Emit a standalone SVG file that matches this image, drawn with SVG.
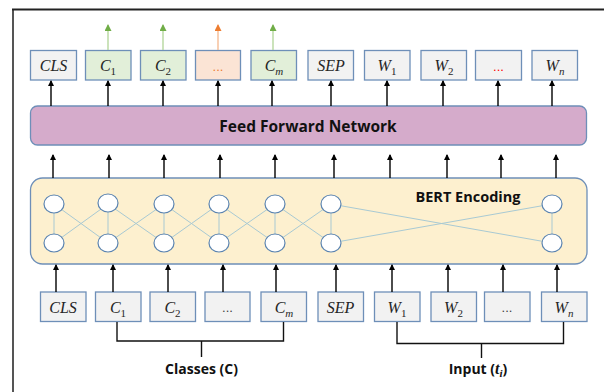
<svg xmlns="http://www.w3.org/2000/svg" width="604" height="392" viewBox="0 0 604 392">
<style>
.box{fill:#f2f2f2;stroke:#6e8fb8;stroke-width:1.3}
.cbox{fill:#e2efd9;stroke:#6e8fb8;stroke-width:1.3}
.obox{fill:#fbe4d5;stroke:#6e8fb8;stroke-width:1.3}
.m{font-family:"Liberation Serif",serif;font-style:italic;font-size:16px;fill:#262626;text-anchor:middle}
.sub{font-size:11px;font-style:normal}
.subi{font-size:11px}
.b{font-family:"Open Sans","Liberation Sans",sans-serif;font-weight:bold;fill:#111;text-anchor:middle}
.arr{stroke:#000;stroke-width:1.4;fill:none;marker-end:url(#ah)}
.ga{stroke:#a9d18e;stroke-width:1.2;fill:none;marker-end:url(#gh)}
.oa{stroke:#f4b183;stroke-width:1.2;fill:none;marker-end:url(#oh)}
.nn{fill:#fff;stroke:#5b84b1;stroke-width:1.2}
.ln{stroke:#a8c9d3;stroke-width:1;fill:none}
.br{stroke:#111;stroke-width:1.4;fill:none}
.dots{font-family:"Liberation Sans",sans-serif;font-size:13px;text-anchor:middle}
</style>
<defs>
<marker id="ah" markerWidth="6" markerHeight="6" refX="5" refY="3" orient="auto" markerUnits="userSpaceOnUse"><path d="M0,0 L6,3 L0,6 z" fill="#000"/></marker>
<marker id="gh" markerWidth="7" markerHeight="7" refX="6" refY="3.5" orient="auto" markerUnits="userSpaceOnUse"><path d="M0,0 L7,3.5 L0,7 z" fill="#70ad47"/></marker>
<marker id="oh" markerWidth="7" markerHeight="7" refX="6" refY="3.5" orient="auto" markerUnits="userSpaceOnUse"><path d="M0,0 L7,3.5 L0,7 z" fill="#ed7d31"/></marker>
</defs>
<rect width="604" height="392" fill="#fff"/>
<path d="M13,392 V9.5" stroke="#555" stroke-width="2" fill="none"/>
<path d="M12,9.5 H604" stroke="#222" stroke-width="2" fill="none"/>

<g id="ffn">
<rect x="30.5" y="106" width="556" height="39" rx="7" fill="#d5abcb" stroke="#6e8fb8" stroke-width="1.3"/>
<text class="b" x="308" y="131.5" font-size="15.5">Feed Forward Network</text>
</g>

<g id="bert">
<rect x="30.5" y="178" width="556.5" height="86" rx="12" fill="#fdf0cf" stroke="#6e8fb8" stroke-width="1.3"/>
<text class="b" x="468" y="201.5" font-size="14.5">BERT Encoding</text>
<g class="ln">
<path d="M54,204 V243 M108,204 V243 M164,204 V243 M219,204 V243 M275,204 V243 M331,204 V243 M552,204 V243"/>
<path d="M54,204 L108,243 M54,243 L108,204 M108,204 L164,243 M108,243 L164,204 M164,204 L219,243 M164,243 L219,204 M219,204 L275,243 M219,243 L275,204 M275,204 L331,243 M275,243 L331,204 M331,204 L552,243 M331,243 L552,204"/>
</g>
<g class="nn">
<ellipse cx="54" cy="204" rx="10" ry="9"/><ellipse cx="108" cy="203" rx="10" ry="9"/><ellipse cx="164" cy="204" rx="10" ry="9"/><ellipse cx="219" cy="204" rx="10" ry="9"/><ellipse cx="275" cy="204" rx="10" ry="9"/><ellipse cx="331" cy="204" rx="10" ry="9"/><ellipse cx="552" cy="204" rx="10" ry="9"/>
<ellipse cx="54" cy="243" rx="10" ry="9"/><ellipse cx="108" cy="243" rx="10" ry="9"/><ellipse cx="164" cy="243" rx="10" ry="9"/><ellipse cx="219" cy="243" rx="10" ry="9"/><ellipse cx="275" cy="243" rx="10" ry="9"/><ellipse cx="331" cy="243" rx="10" ry="9"/><ellipse cx="552" cy="243" rx="10" ry="9"/>
</g>
</g>

<g id="out-cls"><rect class="box" x="30.5" y="50.5" width="46" height="29.5"/><text class="m" x="53.5" y="71">CLS</text></g>
<g id="out-c1"><rect class="cbox" x="85.5" y="50.5" width="45.5" height="29.5"/><text class="m" x="108" y="71">C<tspan class="sub" dy="4">1</tspan></text></g>
<g id="out-c2"><rect class="cbox" x="140.5" y="50.5" width="45.5" height="29.5"/><text class="m" x="163" y="71">C<tspan class="sub" dy="4">2</tspan></text></g>
<g id="out-dots"><rect class="obox" x="195.5" y="50.5" width="45" height="29.5"/><text class="dots" x="218" y="71" fill="#ed7d31">...</text></g>
<g id="out-cm"><rect class="cbox" x="251" y="50.5" width="45.5" height="29.5"/><text class="m" x="274" y="71">C<tspan class="subi" dy="4">m</tspan></text></g>
<g id="out-sep"><rect class="box" x="308" y="50.5" width="45.5" height="29.5"/><text class="m" x="331" y="71">SEP</text></g>
<g id="out-w1"><rect class="box" x="364.5" y="50.5" width="45.5" height="29.5"/><text class="m" x="387" y="71">W<tspan class="sub" dy="4">1</tspan></text></g>
<g id="out-w2"><rect class="box" x="421" y="50.5" width="45.5" height="29.5"/><text class="m" x="444" y="71">W<tspan class="sub" dy="4">2</tspan></text></g>
<g id="out-wdots"><rect class="box" x="475.5" y="50.5" width="46" height="29.5"/><text class="dots" x="498.5" y="71" fill="#ff0000">...</text></g>
<g id="out-wn"><rect class="box" x="532" y="50.5" width="45.5" height="29.5"/><text class="m" x="555" y="71">W<tspan class="subi" dy="4">n</tspan></text></g>

<g id="in-cls"><rect class="box" x="40.5" y="292" width="45.5" height="29.5"/><text class="m" x="63" y="312.5">CLS</text></g>
<g id="in-c1"><rect class="box" x="95.5" y="292" width="45.5" height="29.5"/><text class="m" x="118" y="312.5">C<tspan class="sub" dy="4">1</tspan></text></g>
<g id="in-c2"><rect class="box" x="150" y="292" width="45.5" height="29.5"/><text class="m" x="172.5" y="312.5">C<tspan class="sub" dy="4">2</tspan></text></g>
<g id="in-dots"><rect class="box" x="205" y="292" width="45" height="29.5"/><text class="dots" x="227.5" y="312" fill="#404040">...</text></g>
<g id="in-cm"><rect class="box" x="261" y="292" width="45.5" height="29.5"/><text class="m" x="284" y="312.5">C<tspan class="subi" dy="4">m</tspan></text></g>
<g id="in-sep"><rect class="box" x="318" y="292" width="45.5" height="29.5"/><text class="m" x="340.5" y="312.5">SEP</text></g>
<g id="in-w1"><rect class="box" x="374.5" y="292" width="45.5" height="29.5"/><text class="m" x="397" y="312.5">W<tspan class="sub" dy="4">1</tspan></text></g>
<g id="in-w2"><rect class="box" x="431" y="292" width="45.5" height="29.5"/><text class="m" x="453.5" y="312.5">W<tspan class="sub" dy="4">2</tspan></text></g>
<g id="in-wdots"><rect class="box" x="484.5" y="292" width="45.5" height="29.5"/><text class="dots" x="507" y="312" fill="#404040">...</text></g>
<g id="in-wn"><rect class="box" x="541.5" y="292" width="45.5" height="29.5"/><text class="m" x="564" y="312.5">W<tspan class="subi" dy="4">n</tspan></text></g>

<g id="classes-label"><text class="b" x="201.5" y="374" font-size="14">Classes (C)</text></g>
<g id="input-label"><text class="b" x="478" y="374" font-size="14">Input (<tspan font-family="Liberation Serif,serif" font-style="italic" font-weight="bold" font-size="16">t</tspan><tspan font-family="Liberation Serif,serif" font-style="italic" font-weight="bold" font-size="11" dy="3">i</tspan><tspan dy="-3">)</tspan></text></g>

<g id="connectors">
<path class="ga" d="M108,50 V25"/><path class="ga" d="M163,50 V25"/><path class="oa" d="M218,50 V25"/><path class="ga" d="M273,50 V25"/>
<path class="arr" d="M51,106 V81"/><path class="arr" d="M108,106 V81"/><path class="arr" d="M163,106 V81"/><path class="arr" d="M218,106 V81"/><path class="arr" d="M272,106 V81"/>
<path class="arr" d="M331,106 V81"/><path class="arr" d="M387,106 V81"/><path class="arr" d="M443,106 V81"/><path class="arr" d="M498,106 V81"/><path class="arr" d="M552,106 V81"/>
<path class="arr" d="M53,178 V155"/><path class="arr" d="M109,178 V155"/><path class="arr" d="M164,178 V155"/><path class="arr" d="M220,178 V155"/><path class="arr" d="M275,178 V155"/>
<path class="arr" d="M334,178 V155"/><path class="arr" d="M390,178 V155"/><path class="arr" d="M447,178 V155"/><path class="arr" d="M501,178 V155"/><path class="arr" d="M556,178 V155"/>
<path class="arr" d="M56,292 V265"/><path class="arr" d="M113,292 V265"/><path class="arr" d="M168,292 V265"/><path class="arr" d="M223,292 V265"/><path class="arr" d="M276,292 V265"/>
<path class="arr" d="M336,292 V265"/><path class="arr" d="M392,292 V265"/><path class="arr" d="M448,292 V265"/><path class="arr" d="M503,292 V265"/><path class="arr" d="M557,292 V265"/>
<path class="br" d="M117,322 V341 H283.5 V322 M201.5,341 V357"/>
<path class="br" d="M397,322 V343.5 H563.5 V322 M481.5,343.5 V358"/>
</g>
</svg>
